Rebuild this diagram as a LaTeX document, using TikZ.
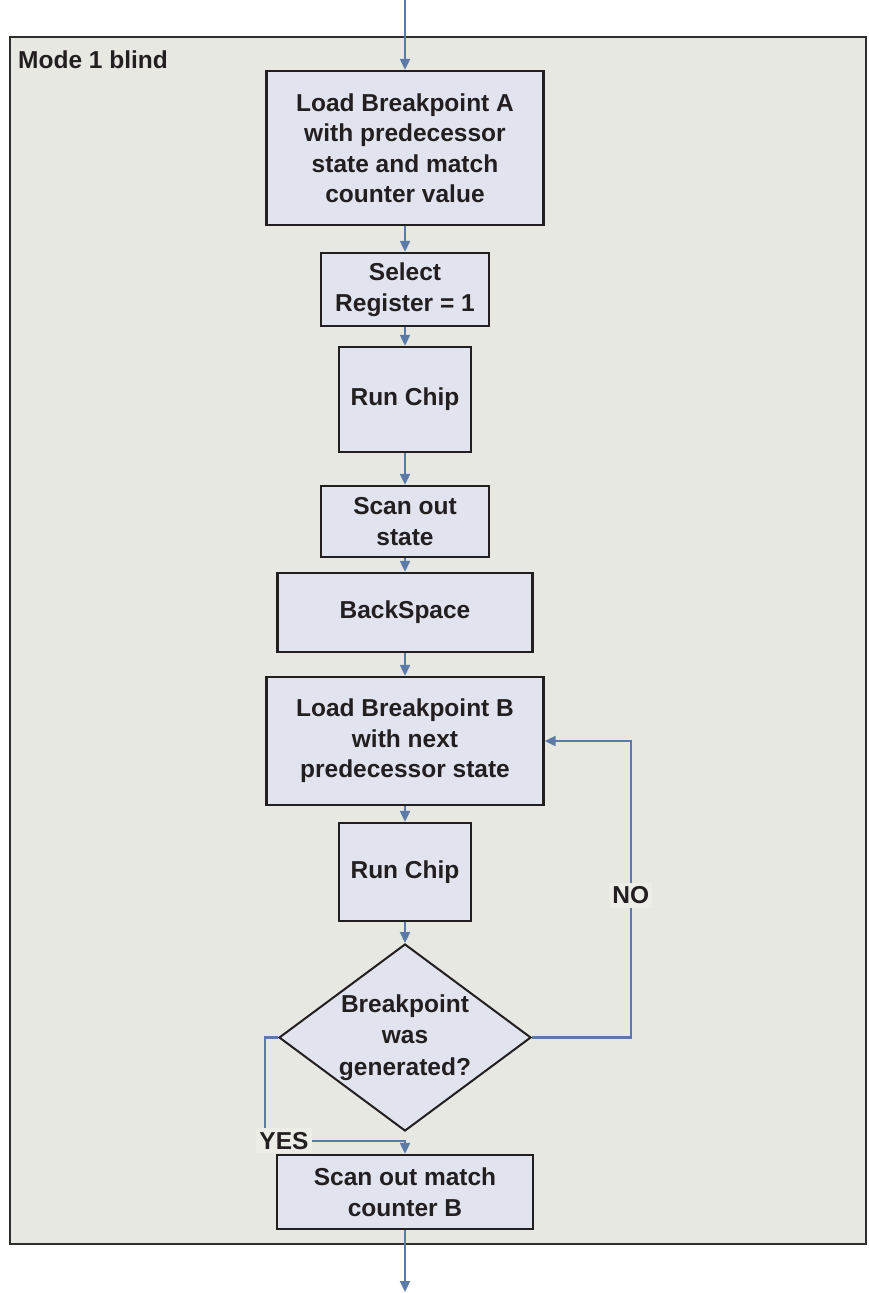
\documentclass[tikz,border=0pt]{standalone}
\usepackage{fontspec}
\setmainfont{Liberation Sans}
\usetikzlibrary{arrows.meta,shapes.geometric}

\definecolor{panelfill}{HTML}{E8E8E2}
\definecolor{panelline}{HTML}{2E2E2E}
\definecolor{boxfill}{HTML}{E1E4EE}
\definecolor{boxline}{HTML}{231F20}
\definecolor{flow}{HTML}{5A7AA8}
\definecolor{ink}{HTML}{231F20}
\definecolor{tagfill}{HTML}{EDEDE8}

\tikzset{
  txt/.style={font=\bfseries\fontsize{24.5}{30.5}\selectfont, text=ink},
  stepbox/.style={txt, draw=boxline, fill=boxfill, line width=2.4pt,
    rectangle, align=center, inner sep=0pt},
  decision/.style={txt, draw=boxline, fill=boxfill, line width=2pt,
    diamond, aspect=1.35, align=center, inner sep=0pt,
    font=\bfseries\fontsize{24.5}{31.5}\selectfont},
  conn/.style={draw=flow, line width=2.2pt,
    -{Triangle[length=11pt,width=10pt]}},
  tag/.style={txt, fill=tagfill, inner xsep=3pt, inner ysep=4pt}
}

\begin{document}
\begin{tikzpicture}[x=1pt,y=-1pt]
\useasboundingbox (0,0) rectangle (868,1293);

% enclosing panel
\node[draw=panelline, fill=panelfill, line width=2.6pt, rectangle,
      minimum width=856pt, minimum height=1207pt, inner sep=0pt]
      (panel) at (438,640.5) {};
\node[txt, anchor=base west, inner sep=0pt] (title) at (18,68) {Mode 1 blind};

% process steps
\node[stepbox, minimum width=277pt, minimum height=154pt] (loadA) at (405,148)
  {Load Breakpoint A\\with predecessor\\state and match\\counter value};
\node[stepbox, minimum width=168pt, minimum height=73pt] (select) at (405,289.5)
  {Select\\Register = 1};
\node[stepbox, minimum width=132pt, minimum height=105pt] (run1) at (405,399.5)
  {Run Chip};
\node[stepbox, minimum width=168pt, minimum height=71pt] (scan) at (405,521.5)
  {Scan out\\state};
\node[stepbox, minimum width=255pt, minimum height=79pt] (back) at (405,612.5)
  {BackSpace};
\node[stepbox, minimum width=277pt, minimum height=128pt] (loadB) at (405,741)
  {Load Breakpoint B\\with next\\predecessor state};
\node[stepbox, minimum width=132pt, minimum height=98pt] (run2) at (405,872)
  {Run Chip};
\node[decision, minimum width=252pt, minimum height=187pt] (check) at (405,1037.5)
  {Breakpoint\\was\\generated?};
\node[stepbox, minimum width=256pt, minimum height=74pt] (count) at (405,1192)
  {Scan out match\\counter B};

% loose ends of the flow
\coordinate (entry) at (405,0);
\coordinate (exit) at (405,1292);

% connectors
\draw[conn] (entry) -- (loadA.north);
\draw[conn] (loadA.south) -- (select.north);
\draw[conn] (select.south) -- (run1.north);
\draw[conn] (run1.south) -- (scan.north);
\draw[conn] (scan.south) -- (back.north);
\draw[conn] (back.south) -- (loadB.north);
\draw[conn] (loadB.south) -- (run2.north);
\draw[conn] (run2.south) -- (check.north);
\draw[conn] (check.east) -| node[tag, pos=0.74] {NO}
  ([xshift=86pt]loadB.east) -- (loadB.east);
\draw[conn] (check.west) -- ++(-13,0) |- node[tag, xshift=19pt] {YES}
  ([yshift=13pt]count.north) -- (count.north);
\draw[conn] (count.south) -- (exit);
\end{tikzpicture}
\end{document}
